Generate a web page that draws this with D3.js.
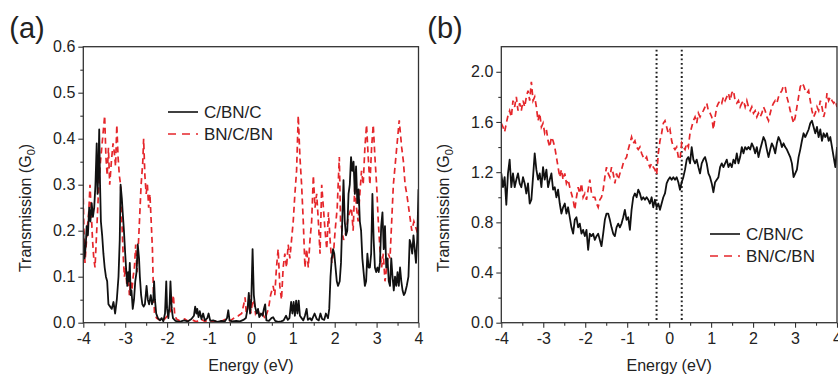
<!DOCTYPE html>
<html>
<head>
<meta charset="utf-8">
<script src="https://cdn.jsdelivr.net/npm/d3@7"></script>
<style>
  body { margin: 0; background: #fff; }
  svg text { font-family: Arial, "Liberation Sans", sans-serif; fill: #222; }
</style>
</head>
<body>
<div id="chart"></div>
<script>
// ---- panel (a): transmission vs energy ----
const energyA_C = [-4.00,-3.97,-3.94,-3.92,-3.89,-3.86,-3.83,-3.80,-3.77,-3.74,-3.71,-3.68,-3.66,-3.64,-3.62,-3.60,-3.58,-3.55,-3.52,-3.49,-3.46,-3.43,-3.40,-3.36,-3.32,-3.28,-3.24,-3.20,-3.16,-3.13,-3.11,-3.08,-3.06,-3.03,-3.00,-2.98,-2.95,-2.93,-2.91,-2.89,-2.87,-2.85,-2.82,-2.79,-2.76,-2.73,-2.70,-2.67,-2.65,-2.62,-2.59,-2.56,-2.53,-2.49,-2.46,-2.43,-2.39,-2.36,-2.33,-2.31,-2.29,-2.26,-2.22,-2.17,-2.13,-2.09,-2.05,-2.02,-2.00,-1.97,-1.94,-1.92,-1.89,-1.86,-1.80,-1.70,-1.60,-1.50,-1.42,-1.36,-1.33,-1.30,-1.28,-1.25,-1.22,-1.18,-1.14,-1.10,-1.04,-1.01,-0.97,-0.90,-0.80,-0.70,-0.62,-0.57,-0.54,-0.51,-0.45,-0.35,-0.26,-0.18,-0.12,-0.08,-0.05,-0.02,0.01,0.04,0.07,0.10,0.14,0.17,0.20,0.24,0.28,0.31,0.34,0.37,0.43,0.49,0.53,0.58,0.65,0.72,0.78,0.84,0.88,0.92,0.96,0.99,1.02,1.05,1.08,1.11,1.14,1.17,1.21,1.25,1.29,1.33,1.36,1.41,1.45,1.52,1.57,1.62,1.66,1.70,1.75,1.79,1.84,1.87,1.90,1.93,1.96,1.99,2.02,2.05,2.08,2.12,2.15,2.18,2.21,2.24,2.27,2.30,2.33,2.36,2.39,2.42,2.45,2.48,2.51,2.54,2.57,2.60,2.63,2.66,2.69,2.72,2.75,2.78,2.81,2.84,2.87,2.90,2.93,2.96,2.99,3.02,3.05,3.08,3.11,3.14,3.17,3.20,3.23,3.26,3.29,3.32,3.35,3.38,3.41,3.44,3.47,3.50,3.53,3.56,3.59,3.62,3.65,3.68,3.72,3.76,3.79,3.82,3.85,3.88,3.91,3.94,3.97,4.00];
const transA_C = [0.20,0.14,0.17,0.21,0.19,0.25,0.22,0.26,0.23,0.25,0.30,0.39,0.28,0.33,0.42,0.30,0.22,0.19,0.15,0.12,0.10,0.09,0.04,0.035,0.03,0.045,0.02,0.05,0.10,0.18,0.30,0.27,0.24,0.20,0.15,0.12,0.08,0.11,0.09,0.13,0.06,0.07,0.03,0.05,0.09,0.11,0.17,0.14,0.10,0.06,0.04,0.035,0.04,0.08,0.05,0.04,0.06,0.04,0.05,0.09,0.05,0.02,0.01,0.005,0.01,0.003,0.02,0.09,0.03,0.01,0.04,0.09,0.03,0.01,0.004,0.002,0.005,0.003,0.008,0.015,0.035,0.02,0.03,0.012,0.025,0.008,0.02,0.005,0.01,0.02,0.004,0.005,0.002,0.004,0.003,0.01,0.027,0.005,0.003,0.004,0.003,0.006,0.01,0.03,0.065,0.02,0.05,0.16,0.06,0.035,0.02,0.03,0.012,0.02,0.015,0.03,0.04,0.005,0.004,0.01,0.012,0.004,0.002,0.003,0.005,0.015,0.006,0.01,0.045,0.02,0.045,0.015,0.048,0.02,0.048,0.015,0.01,0.005,0.015,0.03,0.006,0.01,0.005,0.02,0.008,0.005,0.02,0.008,0.006,0.02,0.01,0.03,0.10,0.14,0.16,0.15,0.12,0.09,0.08,0.09,0.13,0.22,0.31,0.22,0.19,0.20,0.28,0.30,0.36,0.33,0.35,0.28,0.34,0.26,0.29,0.22,0.20,0.14,0.11,0.08,0.09,0.15,0.12,0.12,0.15,0.28,0.18,0.12,0.11,0.12,0.11,0.13,0.21,0.24,0.16,0.21,0.12,0.14,0.09,0.08,0.14,0.10,0.07,0.10,0.08,0.11,0.08,0.12,0.09,0.07,0.06,0.065,0.08,0.10,0.18,0.17,0.15,0.19,0.16,0.13,0.18,0.29];

const energyA_BN = [-4.00,-3.98,-3.96,-3.93,-3.90,-3.87,-3.84,-3.81,-3.78,-3.75,-3.72,-3.70,-3.67,-3.64,-3.60,-3.56,-3.52,-3.49,-3.46,-3.43,-3.40,-3.37,-3.33,-3.29,-3.26,-3.23,-3.20,-3.17,-3.14,-3.11,-3.08,-3.05,-3.02,-2.99,-2.96,-2.93,-2.90,-2.87,-2.84,-2.81,-2.78,-2.75,-2.72,-2.69,-2.66,-2.62,-2.58,-2.56,-2.53,-2.50,-2.47,-2.44,-2.41,-2.38,-2.35,-2.33,-2.30,-2.25,-2.18,-2.10,-2.04,-1.99,-1.93,-1.88,-1.85,-1.82,-1.78,-1.70,-1.58,-1.50,-1.40,-1.30,-1.20,-1.10,-1.00,-0.90,-0.80,-0.70,-0.60,-0.50,-0.40,-0.30,-0.22,-0.17,-0.14,-0.11,-0.07,-0.03,0.00,0.03,0.07,0.11,0.16,0.22,0.28,0.34,0.38,0.42,0.47,0.53,0.57,0.61,0.65,0.69,0.73,0.77,0.81,0.85,0.89,0.93,0.97,1.01,1.05,1.09,1.13,1.17,1.21,1.25,1.29,1.33,1.37,1.41,1.45,1.49,1.53,1.57,1.61,1.65,1.69,1.73,1.77,1.81,1.85,1.89,1.93,1.97,2.01,2.06,2.11,2.14,2.21,2.28,2.32,2.40,2.44,2.48,2.52,2.56,2.60,2.64,2.68,2.72,2.76,2.80,2.84,2.88,2.92,2.96,3.00,3.04,3.08,3.12,3.16,3.20,3.24,3.28,3.32,3.36,3.40,3.48,3.54,3.60,3.64,3.68,3.72,3.78,3.84,3.89,3.96,4.00];
const transA_BN = [0.27,0.18,0.13,0.17,0.21,0.24,0.30,0.24,0.18,0.14,0.12,0.16,0.22,0.28,0.34,0.38,0.42,0.45,0.36,0.32,0.38,0.30,0.35,0.39,0.37,0.34,0.43,0.36,0.32,0.30,0.22,0.15,0.10,0.12,0.08,0.11,0.06,0.09,0.07,0.10,0.12,0.17,0.11,0.16,0.22,0.30,0.35,0.40,0.32,0.28,0.30,0.25,0.28,0.22,0.16,0.08,0.02,0.01,0.006,0.004,0.01,0.015,0.02,0.04,0.06,0.02,0.008,0.004,0.008,0.003,0.006,0.002,0.008,0.003,0.006,0.002,0.005,0.003,0.008,0.004,0.01,0.015,0.02,0.04,0.055,0.02,0.035,0.06,0.02,0.04,0.05,0.02,0.03,0.012,0.02,0.008,0.02,0.03,0.06,0.08,0.06,0.12,0.16,0.08,0.05,0.12,0.15,0.12,0.17,0.14,0.18,0.22,0.28,0.33,0.45,0.36,0.30,0.22,0.12,0.16,0.12,0.18,0.22,0.32,0.25,0.28,0.22,0.15,0.30,0.25,0.20,0.16,0.24,0.18,0.13,0.15,0.20,0.25,0.36,0.22,0.18,0.20,0.23,0.25,0.20,0.30,0.25,0.22,0.28,0.33,0.30,0.38,0.43,0.36,0.30,0.38,0.43,0.36,0.30,0.22,0.16,0.12,0.15,0.09,0.12,0.15,0.14,0.22,0.30,0.38,0.44,0.38,0.35,0.30,0.28,0.24,0.20,0.22,0.20,0.21];

// ---- panel (b): sampled evenly from -4 to 4 eV ----
const transB_C = [
  1.19,1.08,1.16,0.94,1.19,1.30,1.08,1.19,1.08,1.14,
  1.19,1.11,1.08,1.16,1.11,1.03,1.11,0.95,0.98,1.16,
  1.35,1.22,1.14,1.19,1.08,1.24,1.14,1.22,1.08,1.14,
  1.19,1.06,1.08,1.00,1.06,0.95,0.87,0.92,0.95,0.87,
  0.92,0.84,0.76,0.71,0.82,0.84,0.76,0.79,0.71,0.74,
  0.69,0.74,0.58,0.71,0.69,0.71,0.66,0.69,0.71,0.66,
  0.61,0.71,0.82,0.87,0.87,0.82,0.76,0.71,0.69,0.76,
  0.79,0.76,0.79,0.84,0.90,0.82,0.84,0.74,0.90,1.00,
  1.03,1.00,1.06,1.03,0.98,1.00,0.98,1.00,0.98,0.95,
  1.00,0.92,0.98,0.92,0.95,0.90,0.95,1.00,1.03,1.11,
  1.14,1.16,1.14,1.16,1.14,1.16,1.12,1.06,1.12,1.16,
  1.22,1.30,1.32,1.27,1.40,1.30,1.27,1.30,1.24,1.19,
  1.27,1.30,1.32,1.27,1.19,1.16,1.11,1.04,1.12,1.14,
  1.16,1.24,1.27,1.24,1.27,1.30,1.24,1.27,1.24,1.30,
  1.27,1.35,1.27,1.32,1.40,1.35,1.40,1.38,1.40,1.38,
  1.43,1.40,1.35,1.40,1.32,1.38,1.43,1.48,1.45,1.38,
  1.32,1.38,1.43,1.40,1.35,1.43,1.48,1.45,1.40,1.43,
  1.40,1.38,1.35,1.32,1.27,1.16,1.19,1.22,1.32,1.38,
  1.45,1.51,1.48,1.51,1.54,1.59,1.61,1.56,1.51,1.56,
  1.48,1.54,1.45,1.51,1.48,1.51,1.45,1.48,1.40,1.32,
  1.24,1.40];
const transB_BN = [
  1.59,1.56,1.52,1.59,1.65,1.69,1.64,1.77,1.72,1.80,
  1.69,1.75,1.69,1.77,1.72,1.80,1.85,1.77,1.92,1.77,
  1.80,1.72,1.61,1.67,1.56,1.59,1.51,1.54,1.45,1.40,
  1.48,1.45,1.40,1.32,1.24,1.16,1.22,1.14,1.19,1.11,
  1.14,1.08,1.03,0.98,0.90,1.00,1.08,1.03,1.11,1.00,
  1.03,0.98,1.06,1.14,1.03,1.00,1.00,0.95,0.92,0.98,
  1.00,1.06,1.16,1.24,1.19,1.16,1.24,1.19,1.11,1.19,
  1.14,1.19,1.22,1.27,1.30,1.32,1.38,1.43,1.48,1.43,
  1.45,1.40,1.38,1.40,1.35,1.32,1.30,1.32,1.27,1.24,
  1.27,1.24,1.22,1.18,1.35,1.45,1.51,1.59,1.61,1.56,
  1.51,1.54,1.45,1.40,1.38,1.40,1.32,1.30,1.43,1.40,
  1.38,1.43,1.40,1.51,1.56,1.61,1.64,1.59,1.67,1.64,
  1.67,1.69,1.72,1.75,1.69,1.67,1.64,1.54,1.64,1.72,
  1.75,1.77,1.75,1.80,1.77,1.80,1.83,1.77,1.83,1.85,
  1.77,1.75,1.77,1.72,1.75,1.77,1.72,1.77,1.72,1.69,
  1.72,1.67,1.69,1.64,1.67,1.64,1.67,1.72,1.69,1.64,
  1.61,1.67,1.72,1.75,1.77,1.75,1.80,1.83,1.85,1.89,
  1.88,1.80,1.75,1.69,1.64,1.59,1.64,1.72,1.80,1.88,
  1.91,1.89,1.85,1.83,1.85,1.77,1.69,1.64,1.67,1.72,
  1.69,1.77,1.72,1.64,1.69,1.83,1.77,1.80,1.77,1.75,
  1.77,1.72];
const energyB = d3.range(transB_C.length).map(i => -4 + 8 * i / (transB_C.length - 1));

const seriesNames = ["C/BN/C", "BN/C/BN"];
const xTicks = [-4, -3, -2, -1, 0, 1, 2, 3, 4];
const yTicksA = [0, 0.1, 0.2, 0.3, 0.4, 0.5, 0.6];
const yTicksB = [0, 0.4, 0.8, 1.2, 1.6, 2.0];
const biasWindow = [-0.3, 0.3];

const width = 838, height = 375;
const plotTop = 46.7, plotBottom = 322.7;
const red = "#e5262b";

const svg = d3.select("#chart").append("svg")
  .attr("width", width)
  .attr("height", height);

function drawPanel(p) {
  const x = d3.scaleLinear().domain([-4, 4]).range([p.left, p.right]);
  const y = d3.scaleLinear().domain([0, p.yMax]).range([plotBottom, plotTop]);
  const g = svg.append("g");

  g.append("clipPath").attr("id", p.id + "clip")
    .append("rect")
    .attr("x", p.left).attr("y", plotTop)
    .attr("width", p.right - p.left).attr("height", plotBottom - plotTop);

  const plot = g.append("g").attr("clip-path", `url(#${p.id}clip)`);

  // dotted bias window (panel b only)
  if (p.window) {
    plot.selectAll(".win").data(p.window).enter().append("line")
      .attr("x1", d => x(d)).attr("x2", d => x(d))
      .attr("y1", plotTop + 3).attr("y2", plotBottom)
      .attr("stroke", "#222").attr("stroke-width", 2)
      .attr("stroke-dasharray", "1.8,2.6");
  }

  const line = d3.line().x(d => x(d[0])).y(d => y(d[1]));

  plot.append("path")
    .datum(d3.zip(p.eBN, p.tBN))
    .attr("d", line)
    .attr("fill", "none")
    .attr("stroke", red)
    .attr("stroke-width", 1.7)
    .attr("stroke-dasharray", "6,4");

  plot.append("path")
    .datum(d3.zip(p.eC, p.tC))
    .attr("d", line)
    .attr("fill", "none")
    .attr("stroke", "#111")
    .attr("stroke-width", 1.8)
    .attr("stroke-linejoin", "round");

  // axes
  const xMinor = d3.range(-3.5, 4, 1);
  g.append("g")
    .attr("transform", `translate(0,${plotBottom})`)
    .call(d3.axisBottom(x).tickValues(xMinor).tickSize(3).tickFormat(""))
    .call(a => a.select(".domain").remove());
  g.append("g")
    .attr("transform", `translate(0,${plotBottom})`)
    .call(d3.axisBottom(x).tickValues(xTicks).tickSize(5).tickPadding(5).tickFormat(d => String(d)))
    .call(a => a.select(".domain").remove())
    .call(a => a.selectAll("text").attr("font-size", 16).attr("fill", "#222"));

  const yMinor = d3.range(p.yMinorStep, p.yMax, p.yMinorStep * 2);
  g.append("g")
    .attr("transform", `translate(${p.left},0)`)
    .call(d3.axisLeft(y).tickValues(yMinor).tickSize(3).tickFormat(""))
    .call(a => a.select(".domain").remove());
  g.append("g")
    .attr("transform", `translate(${p.left},0)`)
    .call(d3.axisLeft(y).tickValues(p.yTicks).tickSize(5).tickPadding(3).tickFormat(d3.format(".1f")))
    .call(a => a.select(".domain").remove())
    .call(a => a.selectAll("text").attr("font-size", 16).attr("fill", "#222"));

  g.selectAll(".tick line").attr("stroke", "#333").attr("stroke-width", 1.1);

  g.append("rect")
    .attr("x", p.left).attr("y", plotTop)
    .attr("width", p.right - p.left).attr("height", plotBottom - plotTop)
    .attr("fill", "none").attr("stroke", "#333").attr("stroke-width", 1.3);

  // axis titles
  g.append("text")
    .attr("x", (p.left + p.right) / 2).attr("y", 371)
    .attr("text-anchor", "middle").attr("font-size", 16)
    .text("Energy (eV)");

  const yl = g.append("text")
    .attr("transform", `translate(${p.left - 52},${208}) rotate(-90)`)
    .attr("text-anchor", "middle").attr("font-size", 16);
  yl.append("tspan").text("Transmission (G");
  yl.append("tspan").attr("font-size", 11).attr("dy", 4).text("0");
  yl.append("tspan").attr("dy", -4).text(")");

  // panel letter
  g.append("text")
    .attr("x", p.left - 74).attr("y", 38)
    .attr("font-size", 29)
    .text(p.letter);

  // legend
  const lg = g.append("g");
  seriesNames.forEach((name, i) => {
    const ly = p.legendY + i * 22;
    lg.append("line")
      .attr("x1", p.legendX).attr("x2", p.legendX + 30)
      .attr("y1", ly).attr("y2", ly)
      .attr("stroke", i === 0 ? "#111" : red)
      .attr("stroke-width", 1.6)
      .attr("stroke-dasharray", i === 0 ? null : "8,6");
    lg.append("text")
      .attr("x", p.legendX + 36).attr("y", ly + 6)
      .attr("font-size", 17)
      .text(name);
  });
}

drawPanel({
  id: "a", letter: "(a)", left: 83.3, right: 418.5, yMax: 0.6,
  yTicks: yTicksA, yMinorStep: 0.05,
  eC: energyA_C, tC: transA_C, eBN: energyA_BN, tBN: transA_BN,
  legendX: 168, legendY: 112
});

drawPanel({
  id: "b", letter: "(b)", left: 501.3, right: 837, yMax: 2.2,
  yTicks: yTicksB, yMinorStep: 0.2,
  eC: energyB, tC: transB_C, eBN: energyB, tBN: transB_BN,
  legendX: 710, legendY: 234, window: biasWindow
});
</script>
</body>
</html>
